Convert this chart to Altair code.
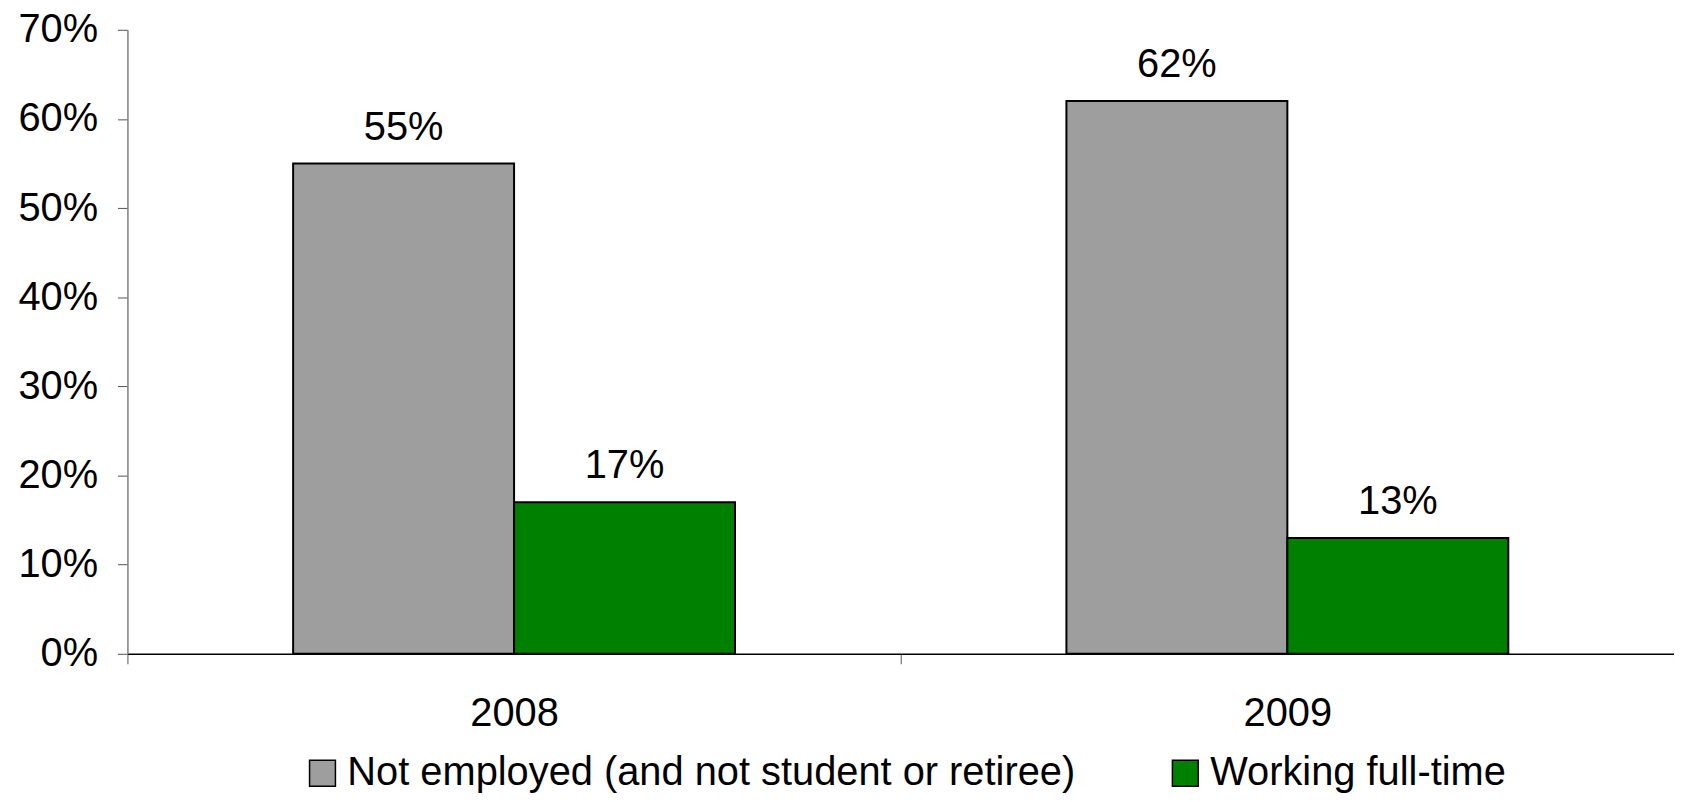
import altair as alt
import pandas as pd

years = ["2008", "2009"]
series = ["Not employed (and not student or retiree)", "Working full-time"]
not_employed = [0.55, 0.62]
full_time = [0.17, 0.13]
y_ticks = [0, 0.1, 0.2, 0.3, 0.4, 0.5, 0.6, 0.7]

rows = []
for i, yr in enumerate(years):
    rows.append({"Year": yr, "Series": series[0], "Value": not_employed[i]})
    rows.append({"Year": yr, "Series": series[1], "Value": full_time[i]})
df = pd.DataFrame(rows)

FONT = "Liberation Sans"

x = alt.X("Year:N", sort=years, title=None,
          scale=alt.Scale(paddingInner=0, paddingOuter=0),
          axis=alt.Axis(labelAngle=0, tickBand="extent", labelFontSize=40, labelFont=FONT,
                        labelColor="black", labelPadding=30, tickSize=10, tickColor="#555555",
                        domainColor="black", domainWidth=1.5))
xo = alt.XOffset("Series:N", sort=series,
                 scale=alt.Scale(paddingOuter=0.75, paddingInner=0))
y = alt.Y("Value:Q", title=None,
          scale=alt.Scale(domain=[0, 0.7], nice=False),
          axis=alt.Axis(values=y_ticks, format=".0%", grid=False, labelFontSize=40,
                        labelFont=FONT, labelColor="black", labelPadding=20, tickSize=10,
                        tickColor="#555555", domainColor="#808080", domainWidth=1.5))

bars = alt.Chart(df).mark_bar(stroke="black", strokeWidth=2).encode(
    x=x, xOffset=xo, y=y,
    color=alt.Color("Series:N", sort=series,
                    scale=alt.Scale(domain=series, range=["#9e9e9e", "#008000"]),
                    legend=alt.Legend(title=None, orient="none", direction="horizontal",
                                      legendX=176, legendY=727, symbolType="square",
                                      symbolSize=676, symbolStrokeColor="black",
                                      symbolStrokeWidth=1.5, labelFontSize=40, labelFont=FONT,
                                      labelColor="black", labelOffset=5, columnPadding=90,
                                      labelLimit=1000)),
)

labels = alt.Chart(df).mark_text(fontSize=40, font=FONT, color="black", dy=-24,
                                 baseline="alphabetic").encode(
    x=x, xOffset=xo, y=y,
    text=alt.Text("Value:Q", format=".0%"),
)

chart = (bars + labels).properties(
    width=1554, height=627,
    autosize=alt.AutoSizeParams(type="none"),
    padding={"left": 120, "top": 20, "right": 0, "bottom": 139},
).configure_view(stroke=None)

chart.save("out.html", embed_options={"renderer": "svg", "actions": False})
